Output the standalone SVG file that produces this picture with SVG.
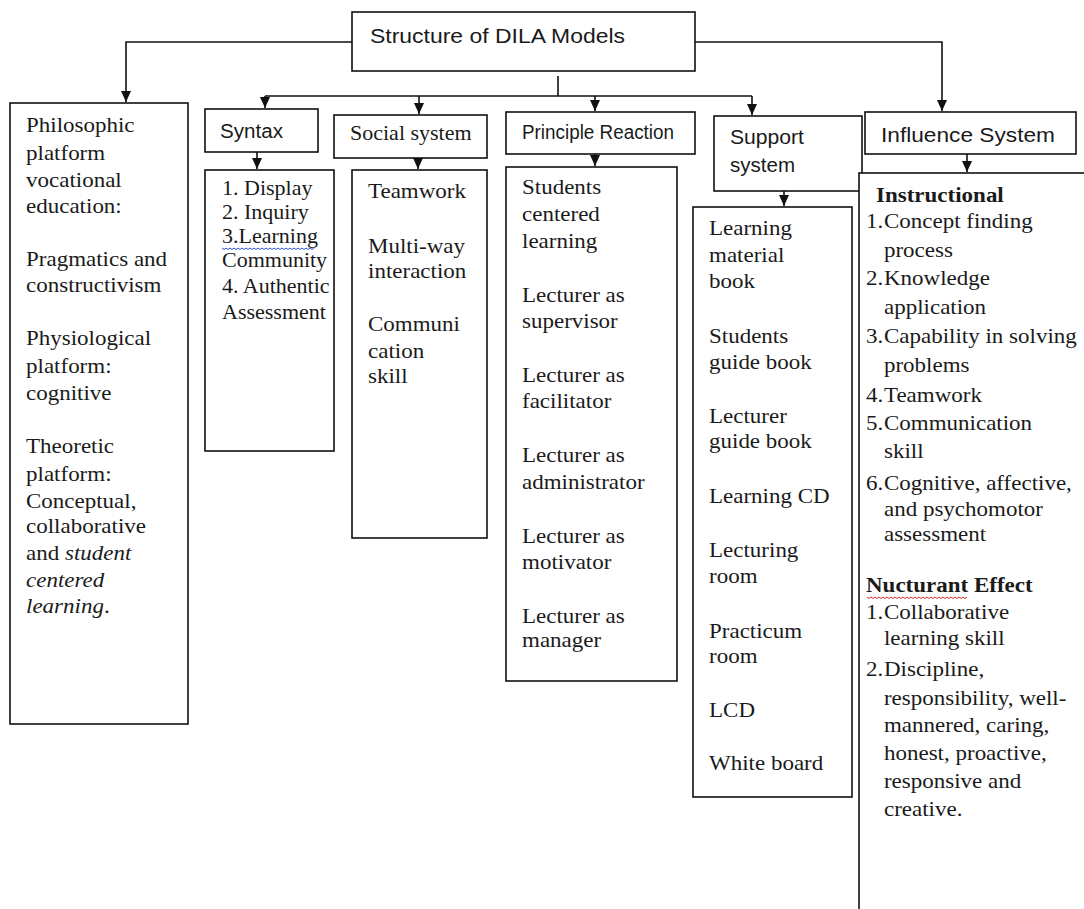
<svg xmlns="http://www.w3.org/2000/svg" width="1084" height="909" viewBox="0 0 1084 909">
<style>
.box{fill:#fff;stroke:#111;stroke-width:1.6}
.conn{fill:none;stroke:#111;stroke-width:1.6}
.serif{font-family:"Liberation Serif","Times New Roman",serif;font-size:22px;fill:#1a1a1a}
.sans{font-family:"Liberation Sans",Arial,sans-serif;font-size:20px;fill:#1a1a1a}
.b{font-weight:bold}
.i{font-style:italic}
</style>
<defs>
<marker id="ah" markerUnits="userSpaceOnUse" markerWidth="11" markerHeight="10" refX="11" refY="5" orient="auto">
<path d="M0,0 L11,5 L0,10 z" fill="#111"/>
</marker>
</defs>
<rect width="1084" height="909" fill="#fff"/>

<g id="connectors">
<path class="conn" d="M352,42 H126 V102" marker-end="url(#ah)"/>
<path class="conn" d="M695,42 H942 V111" marker-end="url(#ah)"/>
<path class="conn" d="M558,76 V96"/>
<path class="conn" d="M265,96 H752"/>
<path class="conn" d="M265,96 V108" marker-end="url(#ah)"/>
<path class="conn" d="M419,96 V114" marker-end="url(#ah)"/>
<path class="conn" d="M595,96 V111" marker-end="url(#ah)"/>
<path class="conn" d="M752,96 V115" marker-end="url(#ah)"/>
<path class="conn" d="M257,152 V169" marker-end="url(#ah)"/>
<path class="conn" d="M418,151 V169" marker-end="url(#ah)"/>
<path class="conn" d="M595,150 V166" marker-end="url(#ah)"/>
<path class="conn" d="M784,186 V206" marker-end="url(#ah)"/>
<path class="conn" d="M967,154 V172" marker-end="url(#ah)"/>
</g>

<g id="root">
<rect class="box" x="352" y="12" width="343" height="59"/>
<text class="sans" x="370" y="43" font-size="21" textLength="255" lengthAdjust="spacingAndGlyphs">Structure of DILA Models</text>
</g>

<g id="philosophic">
<rect class="box" x="10" y="103" width="178" height="621"/>
<g transform="translate(26,0) scale(1.045,1)">
<text class="serif">
<tspan x="0" y="132">Philosophic</tspan>
<tspan x="0" y="160">platform</tspan>
<tspan x="0" y="187">vocational</tspan>
<tspan x="0" y="213">education:</tspan>
<tspan x="0" y="266">Pragmatics and</tspan>
<tspan x="0" y="292">constructivism</tspan>
<tspan x="0" y="345">Physiological</tspan>
<tspan x="0" y="373">platform:</tspan>
<tspan x="0" y="400">cognitive</tspan>
<tspan x="0" y="453">Theoretic</tspan>
<tspan x="0" y="481">platform:</tspan>
<tspan x="0" y="508">Conceptual,</tspan>
<tspan x="0" y="533">collaborative</tspan>
<tspan x="0" y="560">and <tspan class="i">student</tspan></tspan>
<tspan x="0" y="587" class="i">centered</tspan>
<tspan x="0" y="613"><tspan class="i">learning</tspan>.</tspan>
</text>
</g>
</g>

<g id="syntax">
<rect class="box" x="205" y="109" width="113" height="43"/>
<text class="sans" x="220" y="138" textLength="63" lengthAdjust="spacingAndGlyphs">Syntax</text>
</g>
<g id="syntax-content">
<rect class="box" x="205" y="170" width="129" height="281"/>
<text class="serif" font-size="21">
<tspan x="222" y="195">1. Display</tspan>
<tspan x="222" y="219">2. Inquiry</tspan>
<tspan x="222" y="243">3.Learning</tspan>
<tspan x="222" y="267">Community</tspan>
<tspan x="222" y="293">4. Authentic</tspan>
<tspan x="222" y="319">Assessment</tspan>
</text>
<path d="M222,248 l2,1.5 l2,-1.5 l2,1.5 l2,-1.5 l2,1.5 l2,-1.5 l2,1.5 l2,-1.5 l2,1.5 l2,-1.5 l2,1.5 l2,-1.5 l2,1.5 l2,-1.5 l2,1.5 l2,-1.5 l2,1.5 l2,-1.5 l2,1.5 l2,-1.5 l2,1.5 l2,-1.5 l2,1.5 l2,-1.5 l2,1.5 l2,-1.5 l2,1.5 l2,-1.5 l2,1.5 l2,-1.5 l2,1.5 l2,-1.5 l2,1.5 l2,-1.5 l2,1.5 l2,-1.5 l2,1.5 l2,-1.5 l2,1.5 l2,-1.5 l2,1.5 l2,-1.5 l2,1.5 l2,-1.5 l2,1.5 l2,-1.5" fill="none" stroke="#3050d0" stroke-width="1"/>
</g>

<g id="social">
<rect class="box" x="334" y="115" width="153" height="43"/>
<text class="serif" x="350" y="140" font-size="21">Social system</text>
</g>
<g id="social-content">
<rect class="box" x="352" y="170" width="135" height="368"/>
<g transform="translate(368,0) scale(1.045,1)">
<text class="serif">
<tspan x="0" y="198">Teamwork</tspan>
<tspan x="0" y="253">Multi-way</tspan>
<tspan x="0" y="278">interaction</tspan>
<tspan x="0" y="331">Communi</tspan>
<tspan x="0" y="358">cation</tspan>
<tspan x="0" y="383">skill</tspan>
</text>
</g>
</g>

<g id="principle">
<rect class="box" x="506" y="112" width="189" height="42"/>
<text class="sans" x="522" y="139" textLength="152" lengthAdjust="spacingAndGlyphs">Principle Reaction</text>
</g>
<g id="principle-content">
<rect class="box" x="506" y="167" width="171" height="514"/>
<g transform="translate(522,0) scale(1.045,1)">
<text class="serif">
<tspan x="0" y="194">Students</tspan>
<tspan x="0" y="221">centered</tspan>
<tspan x="0" y="248">learning</tspan>
<tspan x="0" y="302">Lecturer as</tspan>
<tspan x="0" y="328">supervisor</tspan>
<tspan x="0" y="382">Lecturer as</tspan>
<tspan x="0" y="408">facilitator</tspan>
<tspan x="0" y="462">Lecturer as</tspan>
<tspan x="0" y="489">administrator</tspan>
<tspan x="0" y="543">Lecturer as</tspan>
<tspan x="0" y="569">motivator</tspan>
<tspan x="0" y="623">Lecturer as</tspan>
<tspan x="0" y="647">manager</tspan>
</text>
</g>
</g>

<g id="support">
<rect class="box" x="714" y="116" width="148" height="75"/>
<text class="sans">
<tspan x="730" y="144" textLength="74" lengthAdjust="spacingAndGlyphs">Support</tspan>
<tspan x="730" y="172" textLength="65" lengthAdjust="spacingAndGlyphs">system</tspan>
</text>
</g>
<g id="support-content">
<rect class="box" x="693" y="207" width="159" height="590"/>
<g transform="translate(709,0) scale(1.045,1)">
<text class="serif">
<tspan x="0" y="235">Learning</tspan>
<tspan x="0" y="262">material</tspan>
<tspan x="0" y="288">book</tspan>
<tspan x="0" y="343">Students</tspan>
<tspan x="0" y="369">guide book</tspan>
<tspan x="0" y="423">Lecturer</tspan>
<tspan x="0" y="448">guide book</tspan>
<tspan x="0" y="503">Learning CD</tspan>
<tspan x="0" y="557">Lecturing</tspan>
<tspan x="0" y="583">room</tspan>
<tspan x="0" y="638">Practicum</tspan>
<tspan x="0" y="663">room</tspan>
<tspan x="0" y="717">LCD</tspan>
<tspan x="0" y="770">White board</tspan>
</text>
</g>
</g>

<g id="influence">
<rect class="box" x="865" y="112" width="211" height="42"/>
<text class="sans" x="881" y="142" font-size="21" textLength="174" lengthAdjust="spacingAndGlyphs">Influence System</text>
</g>
<g id="influence-content">
<rect class="box" x="859" y="173" width="240" height="760"/>
<g transform="translate(866,0) scale(1.045,1)">
<text class="serif">
<tspan x="9.6" y="202" class="b">Instructional</tspan>
<tspan x="0" y="228">1.</tspan><tspan x="17.2" y="228">Concept finding</tspan>
<tspan x="17.2" y="257">process</tspan>
<tspan x="0" y="285">2.</tspan><tspan x="17.2" y="285">Knowledge</tspan>
<tspan x="17.2" y="314">application</tspan>
<tspan x="0" y="343">3.</tspan><tspan x="17.2" y="343">Capability in solving</tspan>
<tspan x="17.2" y="372">problems</tspan>
<tspan x="0" y="402">4.</tspan><tspan x="17.2" y="402">Teamwork</tspan>
<tspan x="0" y="430">5.</tspan><tspan x="17.2" y="430">Communication</tspan>
<tspan x="17.2" y="458">skill</tspan>
<tspan x="0" y="490">6.</tspan><tspan x="17.2" y="490">Cognitive, affective,</tspan>
<tspan x="17.2" y="516">and psychomotor</tspan>
<tspan x="17.2" y="541">assessment</tspan>
<tspan x="0" y="592" class="b">Nucturant Effect</tspan>
<tspan x="0" y="619">1.</tspan><tspan x="17.2" y="619">Collaborative</tspan>
<tspan x="17.2" y="645">learning skill</tspan>
<tspan x="0" y="676">2.</tspan><tspan x="17.2" y="676">Discipline,</tspan>
<tspan x="17.2" y="705">responsibility, well-</tspan>
<tspan x="17.2" y="732">mannered, caring,</tspan>
<tspan x="17.2" y="760">honest, proactive,</tspan>
<tspan x="17.2" y="788">responsive and</tspan>
<tspan x="17.2" y="816">creative.</tspan>
</text>
</g>
<path d="M867,597 l2,1.5 l2,-1.5 l2,1.5 l2,-1.5 l2,1.5 l2,-1.5 l2,1.5 l2,-1.5 l2,1.5 l2,-1.5 l2,1.5 l2,-1.5 l2,1.5 l2,-1.5 l2,1.5 l2,-1.5 l2,1.5 l2,-1.5 l2,1.5 l2,-1.5 l2,1.5 l2,-1.5 l2,1.5 l2,-1.5 l2,1.5 l2,-1.5 l2,1.5 l2,-1.5 l2,1.5 l2,-1.5 l2,1.5 l2,-1.5 l2,1.5 l2,-1.5 l2,1.5 l2,-1.5 l2,1.5 l2,-1.5 l2,1.5 l2,-1.5 l2,1.5 l2,-1.5 l2,1.5 l2,-1.5 l2,1.5 l2,-1.5 l2,1.5 l2,-1.5 l2,1.5 l2,-1.5" fill="none" stroke="#d03030" stroke-width="1"/>
</g>
</svg>
